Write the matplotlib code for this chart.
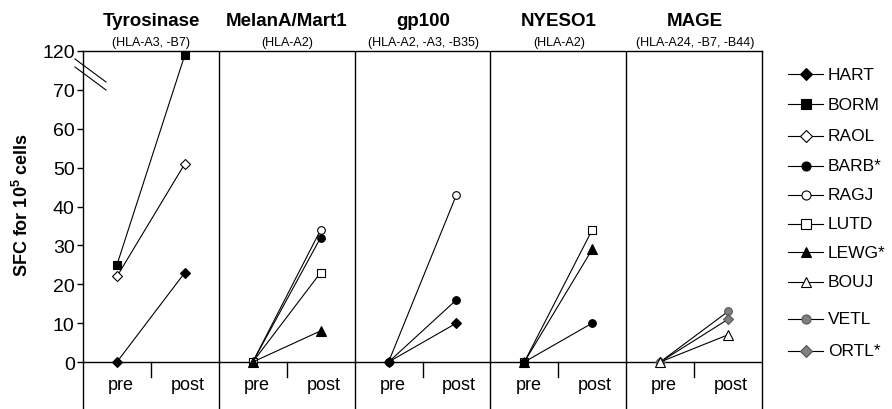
import matplotlib.pyplot as plt
from matplotlib.lines import Line2D

plt.rcParams['font.family'] = ['Liberation Sans', 'DejaVu Sans']
plt.rcParams['mathtext.fontset'] = 'custom'
plt.rcParams['mathtext.rm'] = 'Liberation Sans'
plt.rcParams['mathtext.bf'] = 'Liberation Sans:bold'

# antigens (panels) and their HLA restriction
antigens = ["Tyrosinase", "MelanA/Mart1", "gp100", "NYESO1", "MAGE"]
hla = ["(HLA-A3, -B7)", "(HLA-A2)", "(HLA-A2, -A3, -B35)", "(HLA-A2)", "(HLA-A24, -B7, -B44)"]

patients = ["HART", "BORM", "RAOL", "BARB*", "RAGJ", "LUTD", "LEWG*", "BOUJ", "VETL", "ORTL*"]

# one entry per pre->post line
line_antigen = [0, 0, 0, 1, 1, 1, 1, 2, 2, 2, 3, 3, 3, 4, 4, 4]
line_patient = ["HART", "BORM", "RAOL",
                "RAGJ", "BARB*", "LUTD", "LEWG*",
                "RAGJ", "BARB*", "HART",
                "LUTD", "LEWG*", "BARB*",
                "VETL", "ORTL*", "BOUJ"]
pre_values = [0, 25, 22, 0, 0, 0, 0, 0, 0, 0, 0, 0, 0, 0, 0, 0]
post_values = [23, 115, 51, 34, 32, 23, 8, 43, 16, 10, 34, 29, 10, 13, 11, 7]

ytick_values = [0, 10, 20, 30, 40, 50, 60, 70, 120]

gray = "#808080"
style = {
    "HART": ("D", "black", "black"),
    "BORM": ("s", "black", "black"),
    "RAOL": ("D", "white", "black"),
    "BARB*": ("o", "black", "black"),
    "RAGJ": ("o", "white", "black"),
    "LUTD": ("s", "white", "black"),
    "LEWG*": ("^", "black", "black"),
    "BOUJ": ("^", "white", "black"),
    "VETL": ("o", gray, "#555555"),
    "ORTL*": ("D", gray, "#555555"),
}
msize = {"D": 5, "s": 5.5, "o": 5.5, "^": 6.5}


def ybreak(v):
    # axis is broken above 70: 70..120 squeezed into 70..80
    return v if v <= 70 else 70 + (v - 70) / 5.0


W, H = 892, 410
fig = plt.figure(figsize=(W / 100, H / 100), dpi=100)
ax = fig.add_axes([83 / W, 0, (762 - 83) / W, (410 - 52) / H])
ax.set_xlim(0, 5)
ax.set_ylim(-12.09, 80)

for i in range(1, 5):
    ax.axvline(i, color="black", lw=1)
ax.axhline(0, color="black", lw=1)
for i in range(5):
    ax.plot([i + 0.5, i + 0.5], [0, -3.9], color="black", lw=1)
    ax.text(i + 0.28, -5.8, "pre", ha="center", va="center", fontsize=13)
    ax.text(i + 0.77, -5.8, "post", ha="center", va="center", fontsize=13)

for a, p, v0, v1 in zip(line_antigen, line_patient, pre_values, post_values):
    m, fc, ec = style[p]
    ax.plot([a + 0.25, a + 0.75], [ybreak(v0), ybreak(v1)], color="black", lw=0.8,
            marker=m, markersize=msize[m], markerfacecolor=fc, markeredgecolor=ec,
            markeredgewidth=0.8, clip_on=False, zorder=3)

ax.set_yticks([ybreak(v) for v in ytick_values])
ax.set_yticklabels([str(v) for v in ytick_values])
ax.set_xticks([])
ax.tick_params(axis="y", direction="out", length=4, width=1, labelsize=14, pad=2)
for s in ["left", "right", "top"]:
    ax.spines[s].set_linewidth(1)
ax.spines["bottom"].set_visible(False)

# axis break marks
fig.add_artist(Line2D([75 / W, 106 / W], [1 - 60 / H, 1 - 83 / H], color="black", lw=0.8))
fig.add_artist(Line2D([75 / W, 106 / W], [1 - 68 / H, 1 - 91 / H], color="black", lw=0.8))

fig.text(22 / W, 1 - 205 / H, r"SFC for 10$^{\mathbf{5}}$ cells", rotation=90,
         ha="center", va="center", fontsize=13, weight="bold")

centers = [151, 287, 423, 559, 695]
for cx, t, h in zip(centers, antigens, hla):
    fig.text(cx / W, 1 - 22 / H, t, ha="center", va="center", fontsize=13.5, weight="bold")
    fig.text(cx / W, 1 - 43 / H, h, ha="center", va="center", fontsize=9)

# legend drawn by hand
lax = fig.add_axes([0, 0, 1, 1], facecolor="none")
lax.set_xlim(0, W)
lax.set_ylim(H, 0)
lax.axis("off")
leg_y = [75, 105, 137, 167, 196, 225, 253, 283, 320, 352]
for p, y in zip(patients, leg_y):
    m, fc, ec = style[p]
    lax.plot([788, 823], [y, y], color="black", lw=0.8)
    lax.plot([805.5], [y], marker=m, markersize=msize[m] + 1, markerfacecolor=fc,
             markeredgecolor=ec, markeredgewidth=0.8, color="black", lw=0)
    lax.text(828, y, p, ha="left", va="center", fontsize=12.5)

fig.savefig("out.png", dpi=100)
